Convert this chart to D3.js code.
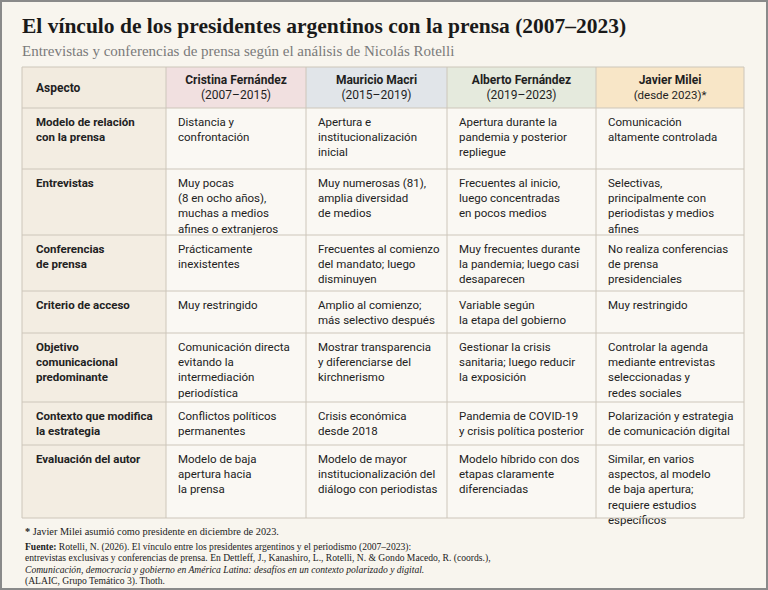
<!doctype html>
<html><head><meta charset="utf-8">
<script src="https://d3js.org/d3.v7.min.js"></script>
<style>
body{margin:0;background:#f8f5ee;}
text{font-family:"Liberation Sans Narrow","Roboto",sans-serif;}
.serif{font-family:"Liberation Serif","DejaVu Serif",serif;}
</style></head>
<body>
<svg id="c" width="768" height="590"></svg>
<script>
const title = "El vínculo de los presidentes argentinos con la prensa (2007–2023)";
const subtitle = "Entrevistas y conferencias de prensa según el análisis de Nicolás Rotelli";
const headers = [["Aspecto"], ["Cristina Fernández", "(2007–2015)"], ["Mauricio Macri", "(2015–2019)"],
  ["Alberto Fernández", "(2019–2023)"], ["Javier Milei", "(desde 2023)*"]];
const headerFills = ["#f2ebdf", "#f1e0e0", "#e1e5e9", "#e5eadd", "#f8e6c7"];
const rows = [
  [["Modelo de relación", "con la prensa"], ["Distancia y", "confrontación"], ["Apertura e", "institucionalización", "inicial"], ["Apertura durante la", "pandemia y posterior", "repliegue"], ["Comunicación", "altamente controlada"]],
  [["Entrevistas"], ["Muy pocas", "(8 en ocho años),", "muchas a medios", "afines o extranjeros"], ["Muy numerosas (81),", "amplia diversidad", "de medios"], ["Frecuentes al inicio,", "luego concentradas", "en pocos medios"], ["Selectivas,", "principalmente con", "periodistas y medios", "afines"]],
  [["Conferencias", "de prensa"], ["Prácticamente", "inexistentes"], ["Frecuentes al comienzo", "del mandato; luego", "disminuyen"], ["Muy frecuentes durante", "la pandemia; luego casi", "desaparecen"], ["No realiza conferencias", "de prensa", "presidenciales"]],
  [["Criterio de acceso"], ["Muy restringido"], ["Amplio al comienzo;", "más selectivo después"], ["Variable según", "la etapa del gobierno"], ["Muy restringido"]],
  [["Objetivo", "comunicacional", "predominante"], ["Comunicación directa", "evitando la", "intermediación", "periodística"], ["Mostrar transparencia", "y diferenciarse del", "kirchnerismo"], ["Gestionar la crisis", "sanitaria; luego reducir", "la exposición"], ["Controlar la agenda", "mediante entrevistas", "seleccionadas y", "redes sociales"]],
  [["Contexto que modifica", "la estrategia"], ["Conflictos políticos", "permanentes"], ["Crisis económica", "desde 2018"], ["Pandemia de COVID-19", "y crisis política posterior"], ["Polarización y estrategia", "de comunicación digital"]],
  [["Evaluación del autor"], ["Modelo de baja", "apertura hacia", "la prensa"], ["Modelo de mayor", "institucionalización del", "diálogo con periodistas"], ["Modelo híbrido con dos", "etapas claramente", "diferenciadas"], ["Similar, en varios", "aspectos, al modelo", "de baja apertura;", "requiere estudios", "específicos"]]
];
const rowHeights = [61, 66, 56, 42, 69, 43, 73];
const colEdges = [22, 166, 306, 447, 596, 744];

const svg = d3.select("#c");
svg.append("rect").attr("x", 1).attr("y", 1).attr("width", 766).attr("height", 588)
  .attr("fill", "#f8f5ee").attr("stroke", "#8a8a8a").attr("stroke-width", 2);
svg.append("text").attr("class", "serif").attr("x", 22).attr("y", 33)
  .attr("font-size", 21.5).attr("font-weight", "bold").attr("fill", "#1a1a1a").text(title);
svg.append("text").attr("class", "serif").attr("x", 22).attr("y", 56)
  .attr("font-size", 15).attr("fill", "#7a7a7a").text(subtitle);

const tableTop = 67, headH = 41;
const x = i => colEdges[i];
const yEdges = [tableTop, tableTop + headH];
rowHeights.forEach(h => yEdges.push(yEdges[yEdges.length - 1] + h));

// header
headers.forEach((h, i) => {
  svg.append("rect").attr("x", x(i)).attr("y", tableTop).attr("width", x(i + 1) - x(i)).attr("height", headH)
    .attr("fill", headerFills[i]);
  const t = svg.append("text").attr("font-size", 12).attr("fill", "#1f1f1f").attr("font-weight", "bold");
  if (i === 0) {
    t.attr("x", x(0) + 14).attr("y", tableTop + 25).text(h[0]);
  } else {
    t.attr("text-anchor", "middle");
    h.forEach((line, k) => t.append("tspan").attr("x", (x(i) + x(i + 1)) / 2)
      .attr("y", tableTop + 17 + k * 15).attr("font-weight", k ? "normal" : "bold")
      .attr("font-size", i === 4 && k ? 11.5 : 12).text(line));
  }
});

// body
rows.forEach((r, ri) => {
  const y0 = yEdges[ri + 1];
  r.forEach((cell, ci) => {
    svg.append("rect").attr("x", x(ci)).attr("y", y0).attr("width", x(ci + 1) - x(ci))
      .attr("height", rowHeights[ri]).attr("fill", ci === 0 ? "#f3ede2" : "#faf8f3");
    const t = svg.append("text").attr("font-size", 11.5).attr("fill", "#222")
      .attr("font-weight", ci === 0 ? "bold" : "normal");
    cell.forEach((line, k) => t.append("tspan").attr("x", x(ci) + (ci === 0 ? 14 : 12))
      .attr("y", y0 + 18 + k * 15.2).text(line));
  });
});

// grid
const g = svg.append("g").attr("stroke", "#cdc6ba").attr("stroke-width", 1).attr("fill", "none");
yEdges.forEach(y => g.append("line").attr("x1", colEdges[0]).attr("x2", colEdges[5]).attr("y1", y).attr("y2", y));
colEdges.forEach(c => g.append("line").attr("x1", c).attr("x2", c).attr("y1", tableTop).attr("y2", yEdges[yEdges.length - 1]));

// notes
const fs = 9.6;
svg.append("text").attr("class", "serif").attr("x", 25).attr("y", 535).attr("font-size", 10.3).attr("fill", "#222")
  .html('<tspan font-weight="bold">*</tspan> Javier Milei asumió como presidente en diciembre de 2023.');
const src = [
  '<tspan font-weight="bold">Fuente:</tspan> Rotelli, N. (2026). El vínculo entre los presidentes argentinos y el periodismo (2007–2023):',
  'entrevistas exclusivas y conferencias de prensa. En Dettleff, J., Kanashiro, L., Rotelli, N. &amp; Gondo Macedo, R. (coords.),',
  '<tspan font-style="italic">Comunicación, democracia y gobierno en América Latina: desafíos en un contexto polarizado y digital.</tspan>',
  '(ALAIC, Grupo Temático 3). Thoth.'
];
src.forEach((s, i) => svg.append("text").attr("class", "serif").attr("x", 25).attr("y", 550 + i * 11.3)
  .attr("font-size", fs).attr("fill", "#222").html(s));
</script>
</body></html>
